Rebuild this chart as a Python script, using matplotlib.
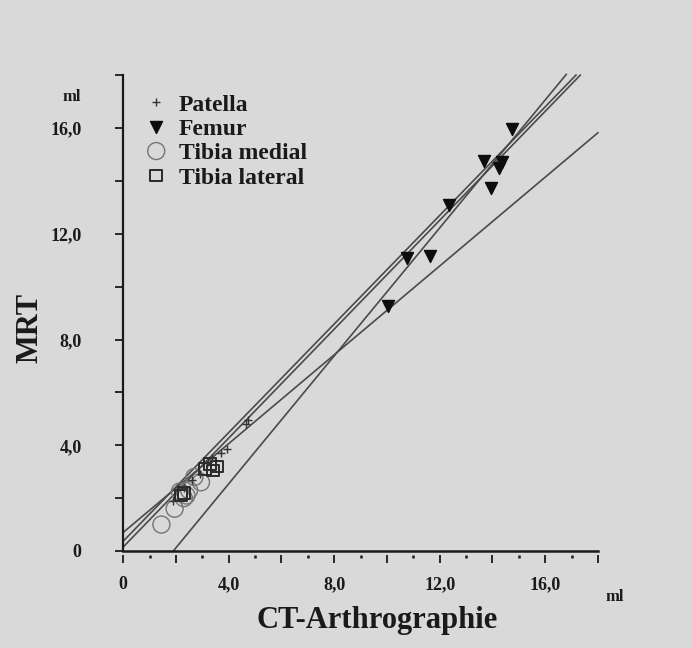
import matplotlib
matplotlib.use("Agg")
import matplotlib.pyplot as plt
from matplotlib.ticker import FixedLocator, FixedFormatter

# data (ml)
patella_x = [1.9, 2.3, 2.6, 2.9, 3.2, 3.35, 3.7, 3.95, 4.65, 4.75]
patella_y = [1.9, 2.4, 2.7, 2.9, 3.35, 3.5, 3.7, 3.85, 4.8, 4.95]
femur_x = [10.05, 10.75, 11.65, 12.35, 13.7, 13.95, 14.25, 14.35, 14.75]
femur_y = [9.25, 11.1, 11.15, 13.1, 14.75, 13.75, 14.5, 14.7, 15.95]
tib_med_x = [1.45, 1.95, 2.15, 2.3, 2.4, 2.5, 2.7, 2.95]
tib_med_y = [1.0, 1.6, 2.25, 2.0, 2.1, 2.3, 2.8, 2.6]
tib_lat_x = [2.2, 2.3, 3.1, 3.3, 3.4, 3.55]
tib_lat_y = [2.1, 2.2, 3.1, 3.3, 3.05, 3.2]

# regression lines: y = a + b*x over [x0, x1]
fit_a = [0.7, 0.37, 0.15, -2.3]
fit_b = [0.84, 1.027, 1.03, 1.21]
fit_x0 = [0, 0, 0, 1.9]
fit_x1 = [18, 17.17, 17.33, 16.8]

tick_vals = [0, 4, 8, 12, 16]
tick_labels = ["0", "4,0", "8,0", "12,0", "16,0"]

BG = "#d9d9d9"
INK = "#1a1a1a"
SERIF = ["Liberation Serif", "DejaVu Serif"]

plt.rcParams["font.family"] = SERIF
plt.rcParams["font.weight"] = "bold"

fig = plt.figure(figsize=(6.92, 6.48), dpi=100, facecolor=BG)
ax = fig.add_axes([0.178, 0.1497, 0.686, 0.7343])
ax.set_facecolor(BG)

for a, b, x0, x1 in zip(fit_a, fit_b, fit_x0, fit_x1):
  ax.plot([x0, x1], [a + b * x0, a + b * x1], color="#4a4a4a", lw=1.2,
          zorder=2, clip_on=False)

ax.scatter(patella_x, patella_y, marker="+", s=28, color="#333333",
           linewidths=1.0, label="Patella", zorder=4)
ax.scatter(femur_x, femur_y, marker="v", s=75, color="#0d0d0d",
           label="Femur", zorder=4)
ax.scatter(tib_med_x, tib_med_y, marker="o", s=150, facecolors="none",
           edgecolors="#757575", linewidths=1.0, label="Tibia medial",
           zorder=3)
ax.scatter(tib_lat_x, tib_lat_y, marker="s", s=70, facecolors="none",
           edgecolors="#2a2a2a", linewidths=1.4, label="Tibia lateral",
           zorder=3)

ax.set_xlim(0, 18)
ax.set_ylim(0, 18)

for side in ("top", "right"):
  ax.spines[side].set_visible(False)
ax.spines["left"].set_linewidth(1.6)
ax.spines["left"].set_color(INK)
ax.spines["bottom"].set_position(("outward", 3))
ax.spines["bottom"].set_visible(False)
ax.plot([0, 18], [0, 0], color=INK, lw=1.8, clip_on=False, zorder=5)

# x ticks: every unit, odd ones as dots
ax.xaxis.set_major_locator(FixedLocator(list(range(0, 19, 2))))
ax.xaxis.set_minor_locator(FixedLocator(list(range(1, 19, 2))))
ax.xaxis.set_major_formatter(
    FixedFormatter([tick_labels[tick_vals.index(v)] if v in tick_vals else ""
                    for v in range(0, 19, 2)]))
ax.tick_params(axis="x", which="major", direction="out", length=6,
               width=1.3, color=INK, pad=9, labelsize=13)
ax.tick_params(axis="x", which="minor", direction="out", length=2,
               width=1.8, color=INK)

ax.yaxis.set_major_locator(FixedLocator(list(range(0, 19, 2))))
ax.yaxis.set_major_formatter(
    FixedFormatter([tick_labels[tick_vals.index(v)] if v in tick_vals else ""
                    for v in range(0, 19, 2)]))
ax.tick_params(axis="y", which="major", direction="out", length=6,
               width=1.3, color=INK, pad=24, labelsize=13)
for lab in ax.get_xticklabels() + ax.get_yticklabels():
  lab.set_fontweight("bold")
  lab.set_color(INK)

ax.set_xlabel("CT-Arthrographie", fontsize=22, fontweight="bold",
              color=INK)
ax.xaxis.set_label_coords(0.535, -0.116)
ax.set_ylabel("MRT", fontsize=22, fontweight="bold", color=INK)
ax.yaxis.set_label_coords(-0.166, 0.468)

fig.text(72 / 692, 1 - 97 / 648, "ml", fontsize=12, fontweight="bold",
         color=INK, ha="center", va="center")
fig.text(615 / 692, 1 - 597 / 648, "ml", fontsize=12, fontweight="bold",
         color=INK, ha="center", va="center")

leg = ax.legend(loc="upper left", bbox_to_anchor=(0.0, 0.995), frameon=False,
                handletextpad=0.25, labelspacing=0.12, borderaxespad=0.3,
                handlelength=1.4,
                prop={"family": SERIF, "weight": "bold", "size": 17},
                scatteryoffsets=[0.5])
for t in leg.get_texts():
  t.set_color(INK)

fig.savefig("out.png", dpi=100, facecolor=BG)
